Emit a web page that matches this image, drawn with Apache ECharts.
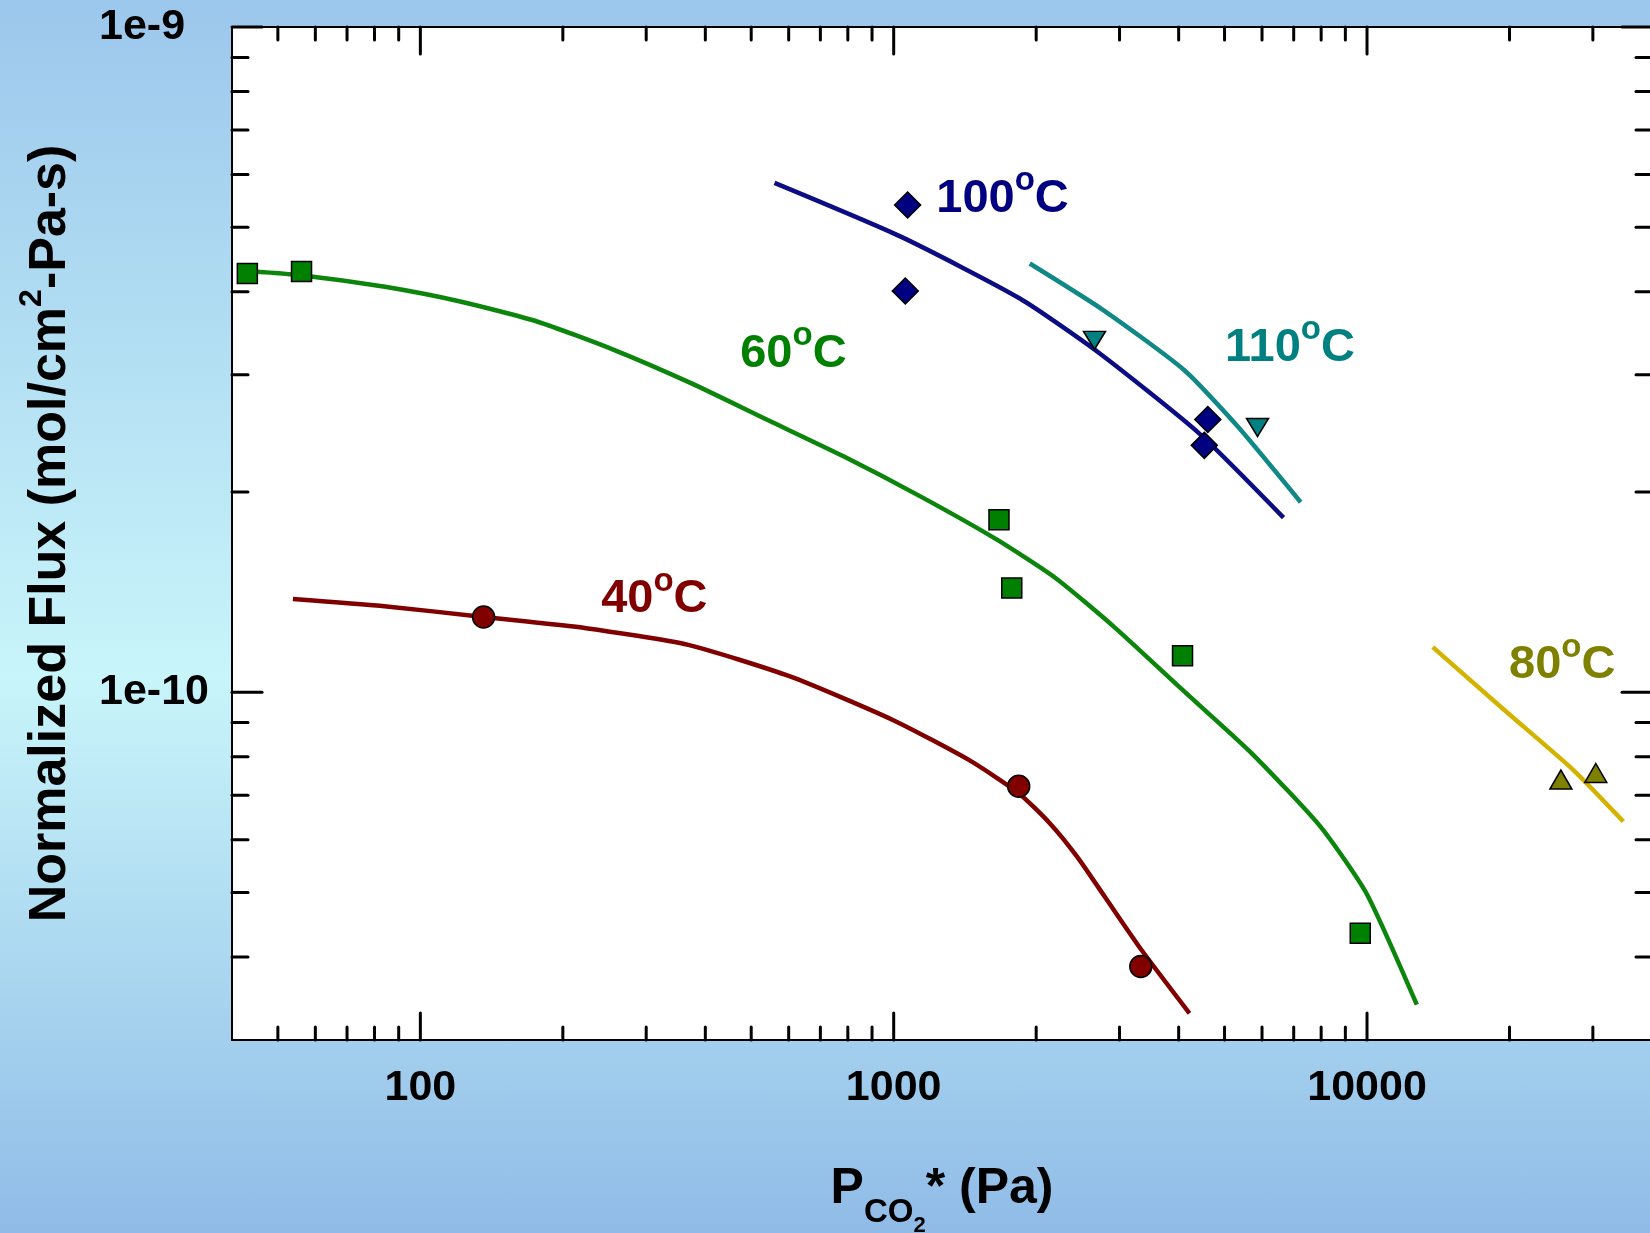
<!DOCTYPE html>
<html>
<head>
  <meta charset="UTF-8" />
  <title>Normalized Flux vs PCO2*</title>
  <style type="text/css">
    * {
      margin: 0;
      padding: 0;
    }
    body {
      width: 1650px;
      height: 1233px;
      overflow: hidden;
      background: linear-gradient(to bottom, #9cc7ec 0%, #c8f5fa 55%, #90bbe7 100%);
    }
    #main {
      width: 1650px;
      height: 1233px;
    }
  </style>
</head>
<body>
  <div id="main"></div>
  <script src="https://cdn.jsdelivr.net/npm/echarts@6/dist/echarts.min.js"></script>
  <script type="text/javascript">
    const FONT = "'Liberation Sans', Arial, sans-serif"
    const X_MIN = 40, X_MAX = 40000
    const Y_MIN = 3e-11, Y_MAX = 1e-9

    // measured points [P (Pa), flux]
    const pts40 = [[136, 1.297e-10], [1837, 7.22e-11], [3327, 3.87e-11]]
    const pts60 = [[43.1, 4.26e-10], [56.1, 4.29e-10], [1669, 1.816e-10], [1776, 1.434e-10], [4076, 1.134e-10], [9676, 4.34e-11]]
    const pts80 = [[25680, 7.39e-11], [30430, 7.56e-11]]
    const pts100 = [[1070, 5.40e-10], [1058, 4.01e-10], [4609, 2.57e-10], [4531, 2.35e-10]]
    const pts110 = [[2656, 3.38e-10], [5870, 2.50e-10]]

    // model curves
    const fit40 = [[53.8, 1.381e-10], [83, 1.348e-10], [136, 1.297e-10], [224, 1.248e-10], [368, 1.178e-10],
      [604, 1.056e-10], [993, 9.09e-11], [1441, 7.91e-11], [1837, 7.05e-11], [2134, 6.36e-11], [2440, 5.66e-11],
      [2790, 4.93e-11], [3336, 4.10e-11], [4216, 3.29e-11]]
    const fit60 = [[41, 4.31e-10], [55.9, 4.236e-10], [84.2, 4.068e-10], [122, 3.863e-10], [177, 3.605e-10],
      [257, 3.268e-10], [374, 2.912e-10], [542, 2.565e-10], [787, 2.259e-10], [1141, 1.968e-10], [1656, 1.694e-10],
      [2193, 1.486e-10], [2917, 1.255e-10], [4076, 1.008e-10], [5700, 8.10e-11], [7971, 6.28e-11],
      [9963, 4.99e-11], [12740, 3.39e-11]]
    const fit80 = [[13770, 1.169e-10], [19470, 9.41e-11], [27220, 7.65e-11], [34800, 6.39e-11]]
    const fit100 = [[560, 5.83e-10], [1035, 4.84e-10], [1844, 3.91e-10], [2725, 3.23e-10], [4418, 2.45e-10], [6662, 1.83e-10]]
    const fit110 = [[1939, 4.41e-10], [2777, 3.75e-10], [4107, 3.05e-10], [5327, 2.51e-10], [7241, 1.93e-10]]

    // curve labels
    const noteText = ['100', '110', '60', '40', '80']
    const noteX = [1230, 5012, 474, 241, 19950]
    const noteY = [5.52e-10, 3.295e-10, 3.229e-10, 1.38e-10, 1.099e-10]
    const noteColor = ['#000080', '#008080', '#008000', '#800000', '#808000']

    // ticks
    const xMajor = [100, 1000, 10000]
    const xMinor = [50, 60, 70, 80, 90, 200, 300, 400, 500, 600, 700, 800, 900,
      2000, 3000, 4000, 5000, 6000, 7000, 8000, 9000, 20000, 30000]
    const yMajor = [1e-10, 1e-9]
    const yMinor = [4e-11, 5e-11, 6e-11, 7e-11, 8e-11, 9e-11,
      2e-10, 3e-10, 4e-10, 5e-10, 6e-10, 7e-10, 8e-10, 9e-10]

    const myChart = echarts.init(document.getElementById('main'))

    const tickStyle = { stroke: '#000', lineWidth: 3, lineCap: 'round' }

    function xTick(params, api) {
      const cs = params.coordSys
      const x = api.coord([api.value(0), Y_MIN])[0]
      const len = api.value(2) ? 27 : 13
      const bot = cs.y + cs.height
      return {
        type: 'group', children: [
          { type: 'line', shape: { x1: x, y1: bot, x2: x, y2: bot - len }, style: tickStyle },
          { type: 'line', shape: { x1: x, y1: cs.y, x2: x, y2: cs.y + len }, style: tickStyle }
        ]
      }
    }

    function yTick(params, api) {
      const cs = params.coordSys
      const y = api.coord([X_MIN, api.value(1)])[1]
      const len = api.value(2) ? 30 : 16
      const right = cs.x + cs.width
      return {
        type: 'group', children: [
          { type: 'line', shape: { x1: cs.x, y1: y, x2: cs.x + len, y2: y }, style: tickStyle },
          { type: 'line', shape: { x1: right, y1: y, x2: right - len, y2: y }, style: tickStyle }
        ]
      }
    }

    function noteItem(params, api) {
      const i = params.dataIndex
      const p = api.coord([api.value(0), api.value(1)])
      const c = noteColor[i]
      return {
        type: 'text',
        x: p[0],
        y: p[1],
        style: {
          text: '{n|' + noteText[i] + '}{s|o}{n|C}',
          fill: c,
          align: 'left',
          verticalAlign: 'middle',
          rich: {
            n: { fontSize: 47, fontWeight: 'bold', fontFamily: FONT, fill: c, lineHeight: 68, verticalAlign: 'middle' },
            s: { fontSize: 33, fontWeight: 'bold', fontFamily: FONT, fill: c, verticalAlign: 'top' }
          }
        }
      }
    }

    function lineSeries(data, color) {
      return {
        type: 'line', data: data, smooth: 0.2, symbol: 'none', z: 3,
        lineStyle: { color: color, width: 4.5 }
      }
    }

    function markSeries(data, symbol, size, color, rotate) {
      return {
        type: 'scatter', data: data, symbol: symbol, symbolSize: size, symbolRotate: rotate || 0, z: 5,
        itemStyle: { color: color, borderColor: '#000', borderWidth: 1.5, opacity: 1 }
      }
    }

    const option = {
      animation: false,
      backgroundColor: 'transparent',
      grid: {
        left: 232, top: 27, right: -2, bottom: 193,
        containLabel: false, outerBoundsMode: 'none',
        show: true, backgroundColor: '#fff', borderColor: '#000', borderWidth: 2
      },
      xAxis: {
        type: 'log', logBase: 10, min: X_MIN, max: X_MAX,
        axisLine: { show: false }, axisTick: { show: false }, splitLine: { show: false },
        axisLabel: {
          show: true, margin: 27, color: '#000', fontSize: 43, fontWeight: 'bold', fontFamily: FONT,
          showMinLabel: false, showMaxLabel: false,
          formatter: v => String(Math.round(v))
        },
        name: '{m|P}{a|CO}{b|2}{m|* (Pa)}',
        nameLocation: 'middle',
        nameGap: 101,
        nameTextStyle: {
          color: '#000', fontSize: 50, fontWeight: 'bold', fontFamily: FONT,
          rich: {
            m: { fontSize: 50, fontWeight: 'bold', fontFamily: FONT, color: '#000', verticalAlign: 'middle' },
            a: { fontSize: 33, fontWeight: 'bold', fontFamily: FONT, color: '#000', verticalAlign: 'middle', padding: [48, 0, 0, 0] },
            b: { fontSize: 22, fontWeight: 'bold', fontFamily: FONT, color: '#000', verticalAlign: 'middle', padding: [74, 0, 0, 0] }
          }
        }
      },
      yAxis: {
        type: 'log', logBase: 10, min: Y_MIN, max: Y_MAX,
        axisLine: { show: false }, axisTick: { show: false }, splitLine: { show: false },
        axisLabel: {
          show: true, margin: 133, align: 'left', color: '#000', fontSize: 43, fontWeight: 'bold', fontFamily: FONT,
          showMinLabel: false, showMaxLabel: true,
          formatter: v => '1e' + Math.round(Math.log10(v))
        },
        name: '{m|Normalized Flux (mol/cm}{s|2}{m|-Pa-s)}',
        nameLocation: 'middle',
        nameRotate: 90,
        nameGap: 147,
        nameTextStyle: {
          color: '#000', fontSize: 52, fontWeight: 'bold', fontFamily: FONT,
          rich: {
            m: { fontSize: 52, fontWeight: 'bold', fontFamily: FONT, color: '#000', lineHeight: 69, verticalAlign: 'middle' },
            s: { fontSize: 32, fontWeight: 'bold', fontFamily: FONT, color: '#000', verticalAlign: 'top' }
          }
        }
      },
      series: [
        lineSeries(fit40, '#800000'),
        lineSeries(fit60, '#0b850b'),
        lineSeries(fit80, '#d4b300'),
        lineSeries(fit100, '#0c0c84'),
        lineSeries(fit110, '#108888'),
        markSeries(pts40, 'circle', 22, '#800000'),
        markSeries(pts60, 'rect', 20, '#008000'),
        markSeries(pts80, 'triangle', [22, 19], '#808000'),
        markSeries(pts100, 'diamond', 26, '#000080'),
        markSeries(pts110, 'triangle', [22, 18], '#008080', 180),
        {
          type: 'custom', renderItem: xTick, z: 6, silent: true, encode: { x: 0, y: 1 },
          data: xMajor.map(v => [v, Y_MIN, 1]).concat(xMinor.map(v => [v, Y_MIN, 0]))
        },
        {
          type: 'custom', renderItem: yTick, z: 6, silent: true, encode: { x: 0, y: 1 },
          data: yMajor.map(v => [X_MIN, v, 1]).concat(yMinor.map(v => [X_MIN, v, 0]))
        },
        {
          type: 'custom', renderItem: noteItem, z: 7, silent: true, encode: { x: 0, y: 1 },
          data: noteX.map((x, i) => [x, noteY[i]])
        }
      ]
    }
    myChart.setOption(option)
  </script>
</body>
</html>
